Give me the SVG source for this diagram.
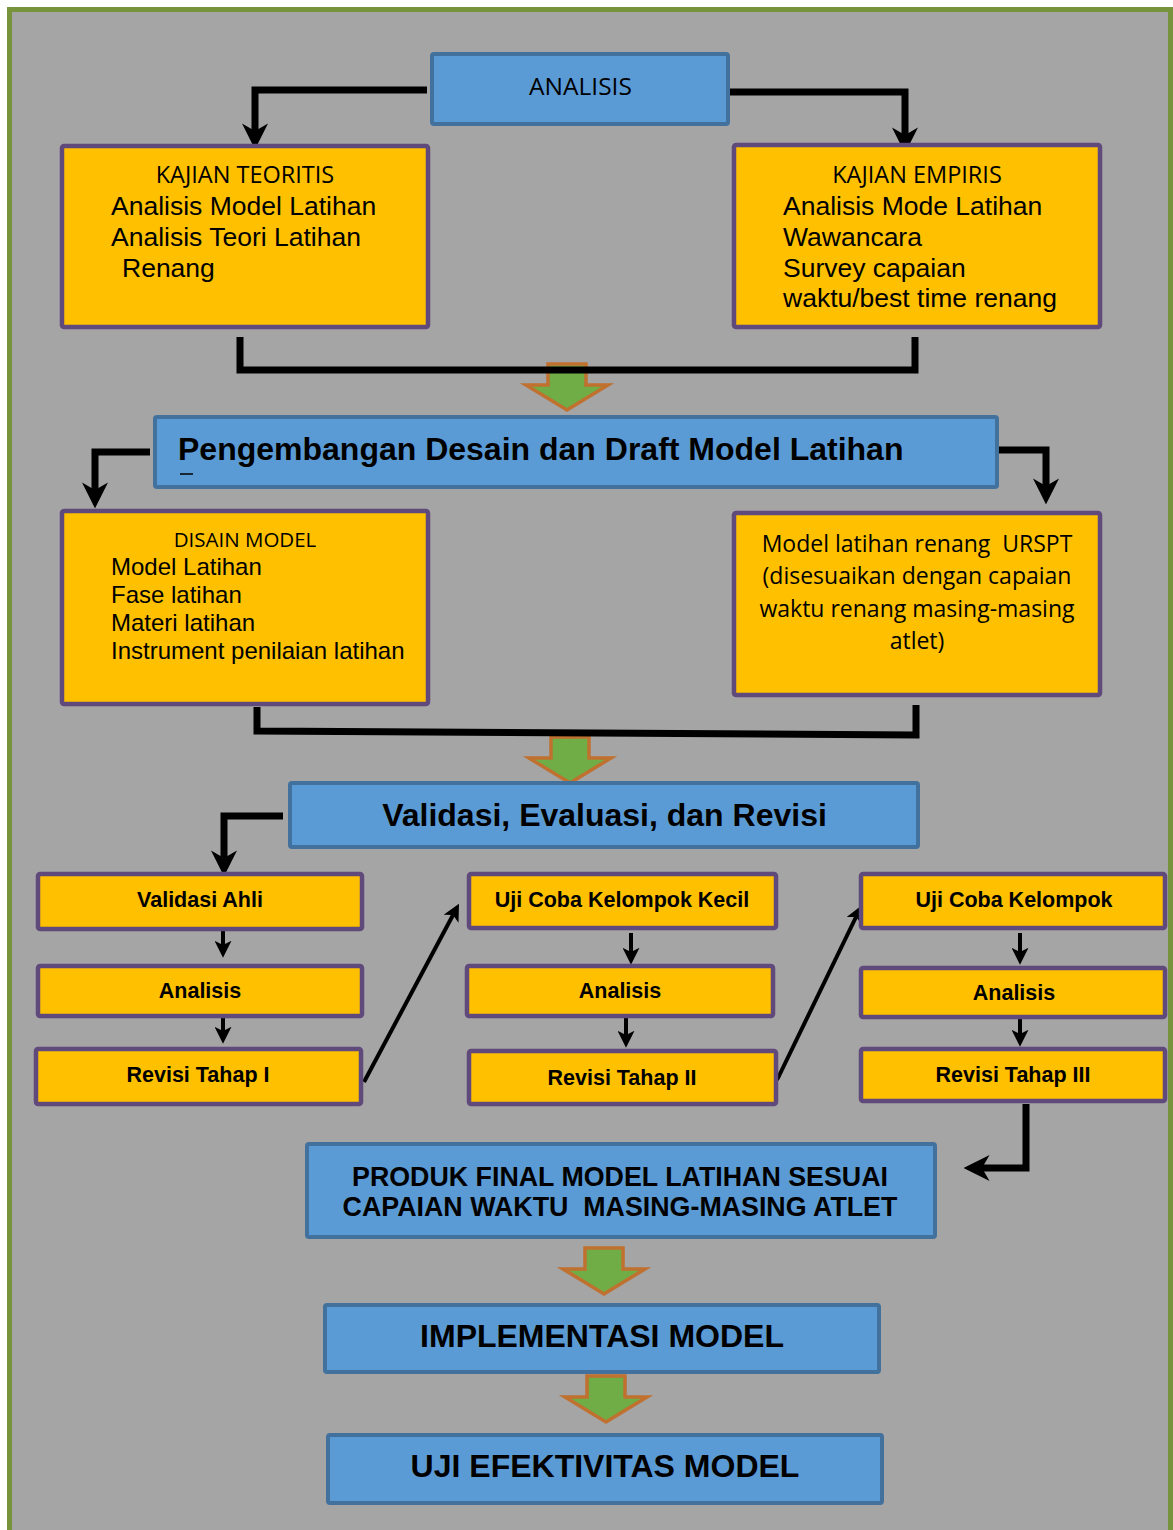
<svg xmlns="http://www.w3.org/2000/svg" width="1173" height="1530" viewBox="0 0 1173 1530">
<defs>
<style>
.blue{fill:#5b9bd5;stroke:#41719c;stroke-width:4}
.yel{fill:#ffc000;stroke:#604a7b;stroke-width:4.5}
.cal{font-family:"Open Sans","Noto Sans",sans-serif;fill:#000}
.ar{font-family:"Liberation Sans",Arial,sans-serif;fill:#000}
.b{font-family:"Liberation Sans",Arial,sans-serif;font-weight:bold;fill:#000}
.thick{fill:none;stroke:#000;stroke-width:7}
.thin{fill:none;stroke:#000;stroke-width:4}
.blk{fill:#70ad47;stroke:#c0702f;stroke-width:3.5}
</style>
<marker id="big" markerUnits="userSpaceOnUse" markerWidth="26" markerHeight="26" viewBox="0 0 24 24" refX="7" refY="12" orient="auto">
<path d="M0,0 L24,12 L0,24 L7,12 Z" fill="#000"/>
</marker>
<marker id="small" markerUnits="userSpaceOnUse" markerWidth="17" markerHeight="17" viewBox="0 0 16 16" refX="4" refY="8" orient="auto">
<path d="M0,0 L16,8 L0,16 L4,8 Z" fill="#000"/>
</marker>
<path id="blockArrow" d="M-19,0 H19 V21 H41 L0,46 L-41,21 H-19 Z"/>
</defs>

<rect x="0" y="0" width="1173" height="1530" fill="#ffffff"/>
<rect x="9.5" y="9.5" width="1161" height="1540" fill="#a5a5a5" stroke="#77933c" stroke-width="5"/>

<g id="connectors">
<path class="thick" d="M427,90 H255 V131" marker-end="url(#big)"/>
<path class="thick" d="M725,92 H905 V135" marker-end="url(#big)"/>
<use href="#blockArrow" x="567" y="364" class="blk"/>
<path class="thick" d="M240,337 V370 H915 V337"/>
<path class="thick" d="M150,452 H95 V490" marker-end="url(#big)"/>
<path class="thick" d="M993,450 H1046 V486" marker-end="url(#big)"/>
<use href="#blockArrow" x="570" y="737" class="blk"/>
<path class="thick" d="M257,707 V731 L916,735 V705"/>
<path class="thick" d="M283,816 H224 V858" marker-end="url(#big)"/>
<path class="thin" d="M223,930 V945" marker-end="url(#small)"/>
<path class="thin" d="M223,1016 V1031" marker-end="url(#small)"/>
<path class="thin" d="M631,933 V952" marker-end="url(#small)"/>
<path class="thin" d="M626,1016 V1035" marker-end="url(#small)"/>
<path class="thin" d="M1020,933 V952" marker-end="url(#small)"/>
<path class="thin" d="M1020,1017 V1034" marker-end="url(#small)"/>
<path class="thin" d="M364,1082 L453,915" marker-end="url(#small)"/>
<path class="thin" d="M777,1080 L856,917" marker-end="url(#small)"/>
<path class="thick" d="M1026,1104 V1168 H982" marker-end="url(#big)"/>
<use href="#blockArrow" x="604" y="1248" class="blk"/>
<use href="#blockArrow" x="606" y="1376" class="blk"/>
</g>

<g id="n-analisis">
<rect class="blue" x="432" y="54" width="296" height="70" rx="2"/>
<text class="cal" x="580.5" y="95" font-size="24.5" text-anchor="middle">ANALISIS</text>
</g>

<g id="n-kajian-teoritis">
<rect class="yel" x="62" y="146" width="366" height="181" rx="2"/>
<text class="cal" x="245" y="183" font-size="23.5" text-anchor="middle">KAJIAN TEORITIS</text>
<text class="ar" x="111" y="215" font-size="26.5">Analisis Model Latihan</text>
<text class="ar" x="111" y="246" font-size="26.5">Analisis Teori Latihan</text>
<text class="ar" x="122" y="277" font-size="26.5">Renang</text>
</g>

<g id="n-kajian-empiris">
<rect class="yel" x="734" y="145" width="366" height="182" rx="2"/>
<text class="cal" x="917" y="183" font-size="23.5" text-anchor="middle">KAJIAN EMPIRIS</text>
<text class="ar" x="783" y="215" font-size="26.5">Analisis Mode Latihan</text>
<text class="ar" x="783" y="246" font-size="26.5">Wawancara</text>
<text class="ar" x="783" y="277" font-size="26.5">Survey capaian</text>
<text class="ar" x="783" y="307" font-size="26.5">waktu/best time renang</text>
</g>

<g id="n-pengembangan">
<rect class="blue" x="155" y="417" width="842" height="70" rx="2"/>
<text class="b" x="178" y="460" font-size="32">Pengembangan Desain dan Draft Model Latihan</text>
<line x1="180" y1="474" x2="193" y2="474" stroke="#000" stroke-width="1.5"/>
</g>

<g id="n-disain-model">
<rect class="yel" x="62" y="511" width="366" height="193" rx="2"/>
<text class="cal" x="245" y="547" font-size="20.5" text-anchor="middle">DISAIN MODEL</text>
<text class="ar" x="111" y="575" font-size="24">Model Latihan</text>
<text class="ar" x="111" y="603" font-size="24">Fase latihan</text>
<text class="ar" x="111" y="631" font-size="24">Materi latihan</text>
<text class="ar" x="111" y="659" font-size="24">Instrument penilaian latihan</text>
</g>

<g id="n-model-urspt">
<rect class="yel" x="734" y="513" width="366" height="182" rx="2"/>
<text class="cal" x="917" y="552" font-size="23" text-anchor="middle" xml:space="preserve">Model latihan renang  URSPT</text>
<text class="cal" x="917" y="584" font-size="23" text-anchor="middle">(disesuaikan dengan capaian</text>
<text class="cal" x="917" y="617" font-size="23" text-anchor="middle">waktu renang masing-masing</text>
<text class="cal" x="917" y="649" font-size="23" text-anchor="middle">atlet)</text>
</g>

<g id="n-validasi-evaluasi">
<rect class="blue" x="290" y="783" width="628" height="64" rx="2"/>
<text class="b" x="604.5" y="826" font-size="32" text-anchor="middle">Validasi, Evaluasi, dan Revisi</text>
</g>

<g id="n-validasi-ahli">
<rect class="yel" x="38" y="874" width="324" height="55" rx="2"/>
<text class="b" x="200" y="907" font-size="21.5" text-anchor="middle">Validasi Ahli</text>
</g>
<g id="n-analisis-1">
<rect class="yel" x="38" y="966" width="324" height="50" rx="2"/>
<text class="b" x="200" y="998" font-size="21.5" text-anchor="middle">Analisis</text>
</g>
<g id="n-revisi-1">
<rect class="yel" x="36" y="1049" width="325" height="55" rx="2"/>
<text class="b" x="198" y="1082" font-size="21.5" text-anchor="middle">Revisi Tahap I</text>
</g>

<g id="n-uji-kecil">
<rect class="yel" x="469" y="874" width="307" height="54" rx="2"/>
<text class="b" x="622" y="907" font-size="21.5" text-anchor="middle">Uji Coba Kelompok Kecil</text>
</g>
<g id="n-analisis-2">
<rect class="yel" x="467" y="966" width="306" height="50" rx="2"/>
<text class="b" x="620" y="998" font-size="21.5" text-anchor="middle">Analisis</text>
</g>
<g id="n-revisi-2">
<rect class="yel" x="469" y="1051" width="307" height="53" rx="2"/>
<text class="b" x="622" y="1085" font-size="21.5" text-anchor="middle">Revisi Tahap II</text>
</g>

<g id="n-uji-kelompok">
<rect class="yel" x="861" y="874" width="304" height="54" rx="2"/>
<text class="b" x="1014" y="907" font-size="21.5" text-anchor="middle">Uji Coba Kelompok</text>
</g>
<g id="n-analisis-3">
<rect class="yel" x="861" y="968" width="304" height="49" rx="2"/>
<text class="b" x="1014" y="1000" font-size="21.5" text-anchor="middle">Analisis</text>
</g>
<g id="n-revisi-3">
<rect class="yel" x="861" y="1049" width="304" height="52" rx="2"/>
<text class="b" x="1013" y="1082" font-size="21.5" text-anchor="middle">Revisi Tahap III</text>
</g>

<g id="n-produk-final">
<rect class="blue" x="307" y="1144" width="628" height="93" rx="2"/>
<text class="b" x="620" y="1186" font-size="26.8" text-anchor="middle">PRODUK FINAL MODEL LATIHAN SESUAI</text>
<text class="b" x="620" y="1216" font-size="26.8" text-anchor="middle" xml:space="preserve">CAPAIAN WAKTU  MASING-MASING ATLET</text>
</g>

<g id="n-implementasi">
<rect class="blue" x="325" y="1305" width="554" height="67" rx="2"/>
<text class="b" x="602" y="1347" font-size="32" text-anchor="middle">IMPLEMENTASI MODEL</text>
</g>

<g id="n-uji-efektivitas">
<rect class="blue" x="328" y="1435" width="554" height="68" rx="2"/>
<text class="b" x="605" y="1477" font-size="32" text-anchor="middle">UJI EFEKTIVITAS MODEL</text>
</g>
</svg>
